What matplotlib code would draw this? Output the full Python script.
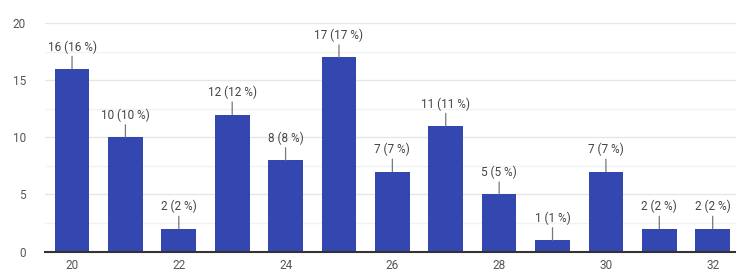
import matplotlib
matplotlib.use("Agg")
from matplotlib import pyplot as plt
from matplotlib.ticker import MultipleLocator

plt.rcParams['font.family'] = ['Roboto', 'DejaVu Sans']

ages = [20, 21, 22, 23, 24, 25, 26, 27, 28, 29, 30, 31, 32]
counts = [16, 10, 2, 12, 8, 17, 7, 11, 5, 1, 7, 2, 2]
percents = [16, 10, 2, 12, 8, 17, 7, 11, 5, 1, 7, 2, 2]
x_ticks = [20, 22, 24, 26, 28, 30, 32]
y_ticks = [0, 5, 10, 15, 20]

fig = plt.figure(figsize=(7.36, 2.75), dpi=100)
ax = fig.add_axes([0.0616, 0.085, 0.943, 0.831])

ax.bar(ages, counts, width=0.65, color='#3446b0', zorder=3)

for a, c, p in zip(ages, counts, percents):
    ax.annotate(f"{c} ({p} %)", xy=(a, c), xytext=(0, 11), textcoords='offset points',
                ha='center', va='bottom', fontsize=8.5, color='#444444',
                arrowprops=dict(arrowstyle='-', color='#777777', lw=0.9,
                                shrinkA=0, shrinkB=0))

ax.set_xlim(19.5, 32.5)
ax.set_ylim(0, 20)
ax.set_xticks(x_ticks)
ax.set_yticks(y_ticks)
ax.yaxis.set_minor_locator(MultipleLocator(2.5))
ax.grid(axis='y', which='major', color='#e6e6e6', lw=1, zorder=0)
ax.grid(axis='y', which='minor', color='#f2f2f2', lw=1, zorder=0)

for s in ['top', 'right', 'left']:
    ax.spines[s].set_visible(False)
ax.spines['bottom'].set_color('#333333')
ax.spines['bottom'].set_linewidth(1.5)
ax.spines['bottom'].set_zorder(4)
ax.tick_params(axis='both', which='both', length=0, labelsize=8.5, labelcolor='#555555')
ax.tick_params(axis='y', pad=14)
ax.tick_params(axis='x', pad=5)

fig.savefig('out.png', dpi=100)
